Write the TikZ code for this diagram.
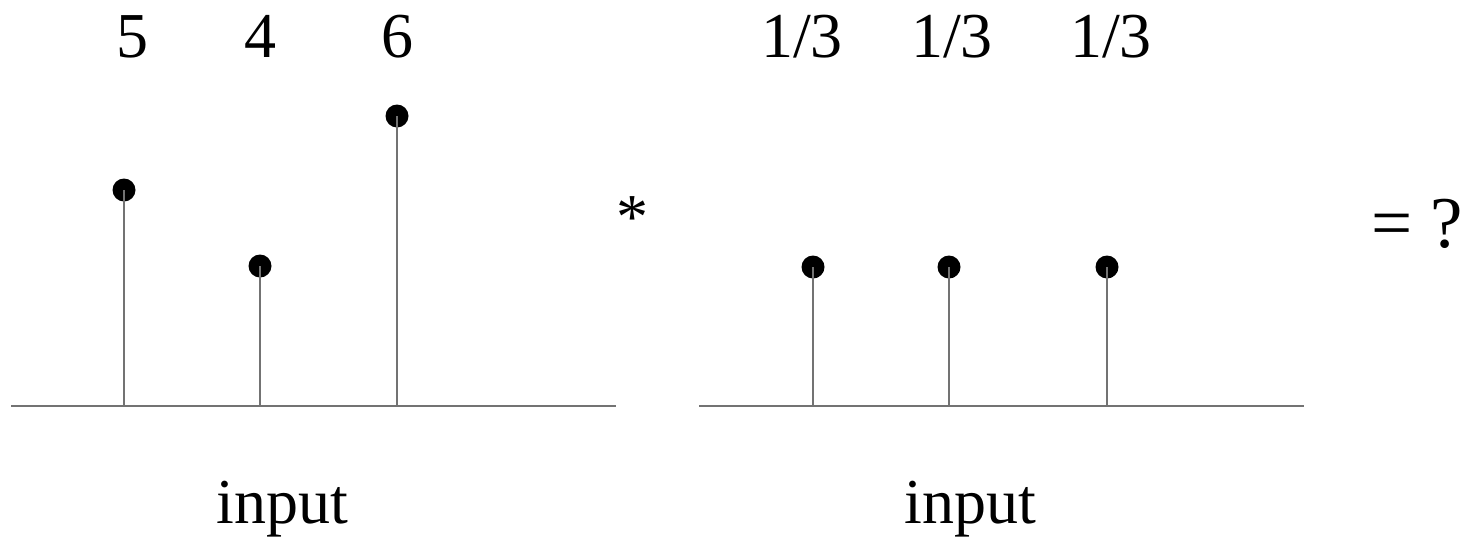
\documentclass[tikz,border=0pt]{standalone}
\usepackage{fontspec}
\setmainfont{Liberation Serif}
\definecolor{linegray}{HTML}{737373}
\begin{document}
\begin{tikzpicture}[x=1pt,y=-1pt,
  axisline/.style={draw=linegray, line width=1.4pt},
  stemline/.style={draw=linegray, line width=1.4pt},
  dotnode/.style={circle, fill=black, inner sep=0pt, minimum size=23pt},
  lbl/.style={anchor=base, inner sep=0pt, font=\fontsize{64}{64}\selectfont},
  biglbl/.style={anchor=base, inner sep=0pt, font=\fontsize{73}{73}\selectfont}]
\useasboundingbox (0,0) rectangle (1465,539);
% left signal
\coordinate (la) at (11,406);
\coordinate (lb) at (616,406);
\draw[axisline] (la) -- (lb);
\coordinate (b1) at (124,406);
\coordinate (b2) at (260,406);
\coordinate (b3) at (397,406);
\node[dotnode] (d1) at (124,190) {};
\node[dotnode] (d2) at (260,266) {};
\node[dotnode] (d3) at (397,116) {};
\draw[stemline] (b1) -- (d1.center);
\draw[stemline] (b2) -- (d2.center);
\draw[stemline] (b3) -- (d3.center);
\node[lbl] (t1) at (132,57) {5};
\node[lbl] (t2) at (260,57) {4};
\node[lbl] (t3) at (397,57) {6};
\node[lbl] (in1) at (282,523) {input};
% operator
\node[lbl] (conv) at (632,238) {*};
% right signal
\coordinate (ra) at (699,406);
\coordinate (rb) at (1304,406);
\draw[axisline] (ra) -- (rb);
\coordinate (c1) at (813,406);
\coordinate (c2) at (949,406);
\coordinate (c3) at (1107,406);
\node[dotnode] (e1) at (813,267) {};
\node[dotnode] (e2) at (949,267) {};
\node[dotnode] (e3) at (1107,267) {};
\draw[stemline] (c1) -- (e1.center);
\draw[stemline] (c2) -- (e2.center);
\draw[stemline] (c3) -- (e3.center);
\node[lbl] (u1) at (802,57) {1/3};
\node[lbl] (u2) at (952,57) {1/3};
\node[lbl] (u3) at (1111,57) {1/3};
\node[lbl] (in2) at (970,523) {input};
% result
\node[biglbl] (res) at (1417,247) {= ?};
\end{tikzpicture}
\end{document}
